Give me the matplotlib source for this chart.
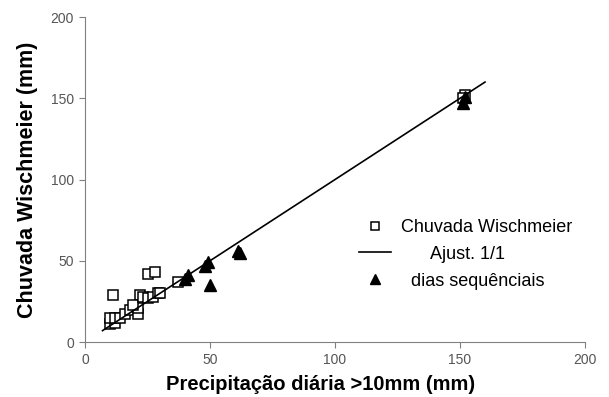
import matplotlib.pyplot as plt

plt.rcParams["font.family"] = ["Liberation Sans", "DejaVu Sans"]

# Chuvada Wischmeier (squares)
chuva_x = [11, 25, 28, 22, 10, 12, 10, 12, 14, 16, 18, 21, 21, 19,
           23, 25, 27, 29, 30, 37, 152, 151]
chuva_y = [29, 42, 43, 29, 11, 12, 15, 15, 15, 17, 20, 17, 21, 23,
           28, 27, 28, 30, 30, 37, 152, 150]

# dias sequenciais (triangles)
seq_x = [40, 41, 48, 49, 50, 61, 62, 151, 152]
seq_y = [39, 41, 47, 49, 35, 56, 55, 147, 151]

# 1:1 line
line_x = [7, 160]
line_y = [7, 160]

fig = plt.figure(figsize=(6.09, 3.97), dpi=100)
ax = fig.add_axes([0.1396, 0.1385, 0.821, 0.8185])

ax.plot(chuva_x, chuva_y, linestyle="none", marker="s", markersize=6.5,
        markerfacecolor="white", markeredgecolor="black", markeredgewidth=1.1,
        label="Chuvada Wischmeier")
ax.plot(line_x, line_y, color="black", linewidth=1.2,
        label="      Ajust. 1/1")
ax.plot(seq_x, seq_y, linestyle="none", marker="^", markersize=9,
        color="black", label="  dias sequênciais")

ax.set_xlim(0, 200)
ax.set_ylim(0, 200)
ax.set_xticks([0, 50, 100, 150, 200])
ax.set_yticks([0, 50, 100, 150, 200])

for s in ["top", "right"]:
    ax.spines[s].set_visible(False)
for s in ["left", "bottom"]:
    ax.spines[s].set_color("#808080")
ax.tick_params(colors="#808080", labelcolor="#555555", labelsize=10,
               length=4, direction="out", pad=4)

ax.set_xlabel("Precipitação diária >10mm (mm)", fontsize=14.5,
              fontweight="bold")
ax.xaxis.set_label_coords(0.472, -0.1)
ax.set_ylabel("Chuvada Wischmeier (mm)", fontsize=15.5, fontweight="bold",
              labelpad=9)

leg = ax.legend(loc="center left", bbox_to_anchor=(0.515, 0.27), frameon=False,
                fontsize=13, markerscale=0.8, handlelength=1.8,
                labelspacing=0.55, handletextpad=0.55)

fig.savefig("out.png", dpi=100)
